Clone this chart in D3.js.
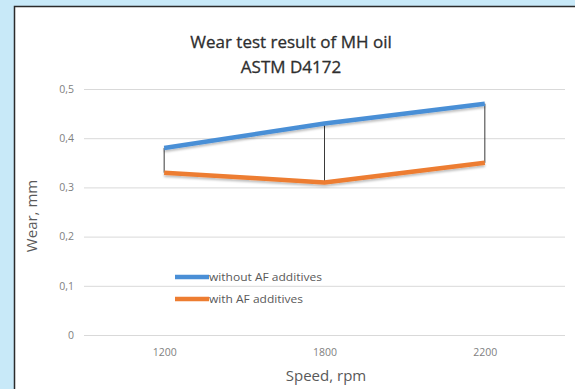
<!DOCTYPE html>
<html>
<head>
<meta charset="utf-8">
<script src="https://cdn.jsdelivr.net/npm/d3@7"></script>
<style>
  body { margin: 0; background: #c8e9f8; }
  text { font-family: "Open Sans", sans-serif; }
</style>
</head>
<body>
<script>
// data
const speeds = ["1200", "1800", "2200"];
const withoutAF = [0.38, 0.43, 0.47];
const withAF = [0.33, 0.31, 0.35];
const yTicks = [0, 0.1, 0.2, 0.3, 0.4, 0.5];
const seriesNames = ["without AF additives", "with AF additives"];
const seriesColors = ["#4a8fd6", "#ed7d31"];

const width = 575, height = 389;
const margin = { top: 89, right: 10, bottom: 54, left: 84 };

const svg = d3.select("body").append("svg")
  .attr("width", width).attr("height", height);

// white chart box with dark border
svg.append("rect")
  .attr("x", 14.5).attr("y", 6.5)
  .attr("width", 620).attr("height", 420)
  .attr("fill", "white").attr("stroke", "#2b2b2b").attr("stroke-width", 1.5);

const defs = svg.append("defs");
const f = defs.append("filter").attr("id", "shadow")
  .attr("x", "-10%").attr("y", "-50%").attr("width", "120%").attr("height", "200%");
f.append("feDropShadow").attr("dx", 0).attr("dy", 2).attr("stdDeviation", 1.2)
  .attr("flood-color", "#000").attr("flood-opacity", 0.25);

const x = d3.scalePoint().domain(speeds)
  .range([margin.left, width - margin.right]).padding(0.5);
const y = d3.scaleLinear().domain([0, 0.5])
  .range([height - margin.bottom, margin.top]);

const fmt = d => d === 0 ? "0" : d3.format(".1f")(d).replace(".", ",");

// gridlines
const yAxis = svg.append("g")
  .attr("transform", `translate(${margin.left},0)`)
  .call(d3.axisLeft(y).tickValues(yTicks).tickFormat(fmt)
    .tickSize(-(width - margin.left - margin.right)).tickPadding(10));
yAxis.select(".domain").remove();
yAxis.selectAll("line").attr("stroke", "#d9d9d9").attr("stroke-width", 1);
yAxis.selectAll("text").attr("fill", "#7f7f7f").attr("font-size", 10.5);

const xAxis = svg.append("g")
  .attr("transform", `translate(0,${height - margin.bottom})`)
  .call(d3.axisBottom(x).tickSize(0).tickPadding(14));
xAxis.select(".domain").remove();
xAxis.selectAll("text").attr("fill", "#7f7f7f").attr("font-size", 10.5);

// high-low lines
svg.append("g").selectAll("line")
  .data(speeds)
  .join("line")
  .attr("x1", d => x(d)).attr("x2", d => x(d))
  .attr("y1", (d, i) => y(withoutAF[i]))
  .attr("y2", (d, i) => y(withAF[i]))
  .attr("stroke", "#3a3a3a").attr("stroke-width", 1);

const line = d3.line().x((d, i) => x(speeds[i])).y(d => y(d));
[withoutAF, withAF].forEach((vals, k) => {
  svg.append("path")
    .datum(vals)
    .attr("d", line)
    .attr("fill", "none")
    .attr("stroke", seriesColors[k])
    .attr("stroke-width", 4.5)
    .attr("stroke-linejoin", "round")
    .attr("filter", "url(#shadow)");
});

// legend
const legend = svg.append("g").attr("transform", "translate(175,277)");
seriesNames.forEach((name, k) => {
  const g = legend.append("g").attr("transform", `translate(0,${k * 22})`);
  g.append("line").attr("x1", 0).attr("x2", 34)
    .attr("stroke", seriesColors[k]).attr("stroke-width", 4.5);
  g.append("text").attr("x", 34).attr("dy", "0.35em")
    .attr("font-size", 11.5).attr("fill", "#595959")
    .attr("textLength", k === 0 ? 113 : 94).attr("lengthAdjust", "spacingAndGlyphs")
    .text(name);
});

// titles
svg.append("text").attr("x", 291).attr("y", 48)
  .attr("text-anchor", "middle").attr("font-size", 17).attr("fill", "#2e2e2e")
  .attr("stroke", "#2e2e2e").attr("stroke-width", 0.3)
  .text("Wear test result of MH oil");
svg.append("text").attr("x", 291).attr("y", 73)
  .attr("text-anchor", "middle").attr("font-size", 17).attr("fill", "#2e2e2e")
  .attr("stroke", "#2e2e2e").attr("stroke-width", 0.3)
  .text("ASTM D4172");

svg.append("text").attr("x", 326).attr("y", 381)
  .attr("text-anchor", "middle").attr("font-size", 15).attr("fill", "#595959")
  .text("Speed, rpm");
svg.append("text")
  .attr("transform", "translate(37,216) rotate(-90)")
  .attr("text-anchor", "middle").attr("font-size", 15).attr("fill", "#595959")
  .text("Wear, mm");
</script>
</body>
</html>
